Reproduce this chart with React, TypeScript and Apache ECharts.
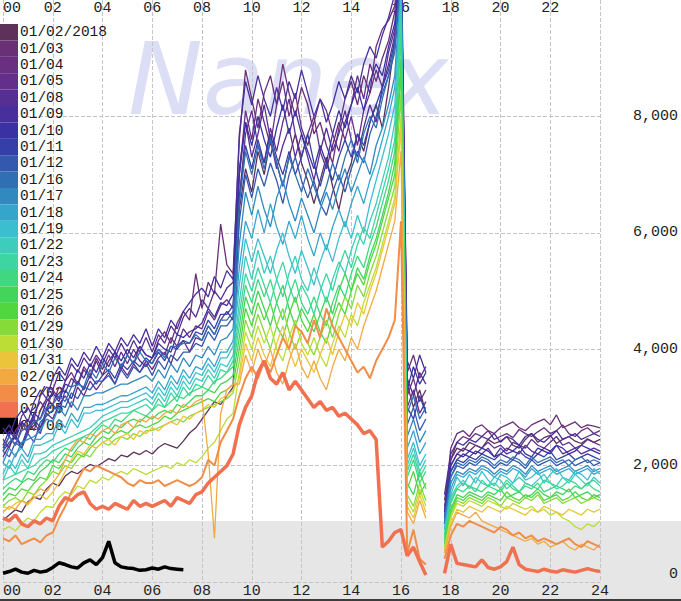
import React, { useEffect, useRef } from 'react';
import * as echarts from 'echarts';

// sample times: 0:00 .. 24:00 every 15 minutes (97 points)
const HOURS = Array.from({ length: 97 }, (_, i) => i / 4);

const DATES = ['01/02/2018', '01/03', '01/04', '01/05', '01/08', '01/09', '01/10', '01/11', '01/12', '01/16', '01/17', '01/18', '01/19', '01/22', '01/23', '01/24', '01/25', '01/26', '01/29', '01/30', '01/31', '02/01', '02/02', '02/05', '02/06'];

const COLORS = ['#5d3159', '#693076', '#6a2f80', '#632f8a', '#562f93', '#47309c', '#3a32a3', '#3440a8', '#3358ae', '#316fb4', '#3189c0', '#35a6cb', '#3bbfd0', '#3ccdbd', '#3dd5a0', '#40d780', '#43d45a', '#52d63f', '#86da3a', '#bcdc36', '#ecc43c', '#f2a93f', '#f28d47', '#f07050', '#000000'];

const WIDTHS = [1.3, 1.3, 1.3, 1.3, 1.3, 1.3, 1.3, 1.3, 1.3, 1.3, 1.3, 1.3, 1.3, 1.3, 1.3, 1.3, 1.3, 1.3, 1.3, 1.3, 1.3, 1.3, 2, 3.5, 3.5];

// day session: 0:00 .. 17:00 (69 values); evening session: 17:45 .. 24:00 (26 values)
const D0102 = [1060, 1150, 1240, 1200, 1380, 1460, 1420, 1600, 1700, 1650, 1820, 1900, 1860, 1950, 2020, 1980, 2050, 2120, 2080, 2180, 2150, 2230, 2190, 2260, 2200, 2310, 2380, 2340, 2300, 2420, 2560, 2650, 2800, 2950, 3100, 3050, 3200, 3350,
  6400, 7100, 6700, 7400, 7000, 7600, 7200, 6800, 7300, 7700, 7200, 6900, 6500, 6900, 7300, 6800, 6400, 6900, 7200, 7700, 7400, 7900, 8200, 7800, 8500, 9300,
  10800, 3400, 3000, 3300, 2900];
const E0102 = [1400, 2100, 2300, 2250, 2400, 2350, 2300, 2450, 2380, 2420, 2500, 2350, 2300, 2450, 2550, 2400, 2480, 2520, 2380, 2450, 2500, 2420, 2380, 2460, 2400, 2450];

const D0103 = [2300, 2500, 2350, 2650, 2800, 2600, 2950, 3150, 3050, 3350, 3250, 3500, 3380, 3650, 3500, 3800, 3550, 3800, 3950, 3650, 3900, 3750, 4050, 3900, 3850, 4150, 4300, 4100, 4450, 4650, 4500, 5300, 4700, 5150, 4950, 6150, 5450, 5300,
  7600, 8800, 8300, 7800, 8400, 8700, 8200, 8900, 8400, 8000, 8500, 8200, 7700, 7900, 7500, 7200, 7800, 8300, 8600, 8200, 8700, 8400, 9200, 9500, 9650, 9900,
  11000, 3600, 3900, 3500, 3700];
const E0103 = [1200, 2300, 2550, 2600, 2500, 2650, 2700, 2600, 2550, 2650, 2700, 2750, 2650, 2600, 2700, 2750, 2800, 2700, 2870, 2650, 2700, 2750, 2650, 2700, 2680, 2650];

const D0104 = [2450, 2300, 2600, 2750, 2550, 2900, 3100, 2950, 3300, 3150, 3450, 3600, 3400, 3700, 3550, 3850, 3650, 3900, 3700, 3950, 3750, 4000, 3800, 3700, 3850, 4000, 3900, 4200, 4050, 4350, 4200, 4400, 4350, 4650, 4500, 4750, 4850, 4700,
  7000, 8100, 7600, 8300, 7900, 7500, 8200, 8600, 8000, 8400, 7800, 7500, 7900, 8300, 8100, 7700, 7400, 7900, 8200, 8700, 8300, 8900, 8600, 9000, 9300, 9800,
  10900, 3200, 3500, 3100, 3300];
const E0104 = [1100, 2100, 2400, 2500, 2450, 2550, 2500, 2600, 2450, 2500, 2550, 2480, 2620, 2550, 2500, 2580, 2650, 2550, 2600, 2700, 2550, 2500, 2600, 2650, 2550, 2600];

const D0105 = [2150, 2350, 2500, 2300, 2600, 2750, 2550, 2900, 2800, 3050, 3200, 3000, 3350, 3200, 3450, 3300, 3450, 3600, 3400, 3700, 3550, 3750, 3600, 3800, 3650, 3850, 3950, 3750, 4050, 4150, 3950, 4200, 4150, 4400, 4250, 4500, 4650, 4500,
  6600, 7700, 8100, 7500, 7200, 7800, 7400, 7900, 8300, 7700, 7300, 7700, 8000, 7400, 7100, 7500, 7900, 7600, 8000, 7500, 8100, 8400, 8800, 8500, 9100, 9500,
  10700, 3000, 3300, 2900, 3100];
const E0105 = [1000, 2000, 2200, 2300, 2250, 2350, 2300, 2400, 2300, 2350, 2250, 2400, 2350, 2300, 2450, 2350, 2300, 2400, 2500, 2350, 2400, 2300, 2350, 2450, 2400, 2350];

const D0108 = [2550, 2700, 2500, 2850, 3000, 2800, 3200, 3350, 3300, 3600, 3450, 3750, 3600, 3850, 3700, 3900, 3750, 4000, 3850, 4100, 3900, 4150, 3950, 4200, 3950, 4250, 4100, 4400, 4250, 4550, 4700, 4550, 4850, 4700, 5000, 4850, 5050, 5150,
  7100, 7900, 7300, 7700, 8200, 7600, 7100, 7500, 7800, 7300, 7700, 7300, 6900, 7400, 7800, 7400, 7700, 8100, 7600, 7300, 7800, 8200, 7900, 8500, 8900, 9400,
  10600, 3500, 3200, 3600, 3400];
const E0108 = [1300, 1900, 2100, 2200, 2150, 2250, 2200, 2300, 2150, 2200, 2300, 2250, 2200, 2350, 2250, 2200, 2300, 2250, 2350, 2200, 2250, 2300, 2200, 2250, 2300, 2250];

const D0109 = [2650, 2500, 2800, 2950, 2750, 3100, 3300, 3150, 3500, 3700, 3550, 3850, 3700, 3950, 3800, 4050, 3850, 4100, 3950, 4200, 4050, 4250, 4100, 4350, 4050, 4350, 4200, 4500, 4350, 4650, 4800, 4950, 5050, 4900, 5250, 5050, 5350, 5200,
  7700, 8600, 8200, 8700, 8300, 8000, 8500, 8100, 8600, 8300, 8800, 8400, 8000, 8300, 7900, 8200, 8600, 8300, 8700, 8400, 8900, 9200, 9000, 9400, 9700, 10100,
  11200, 3800, 3500, 3900, 3600];
const E0109 = [1500, 2200, 2400, 2350, 2450, 2400, 2500, 2450, 2550, 2400, 2500, 2450, 2350, 2500, 2550, 2450, 2400, 2500, 2600, 2450, 2500, 2550, 2450, 2500, 2550, 2500];

const D0110 = [2350, 2600, 2450, 2750, 2650, 2900, 2800, 3100, 3250, 3100, 3400, 3350, 3650, 3500, 3750, 3600, 3850, 3700, 3950, 3800, 4000, 3850, 4050, 3900, 3850, 4100, 4000, 3950, 4250, 4200, 4300, 4350, 4450, 4700, 4550, 4800, 4750, 4950,
  7000, 7900, 7500, 8000, 7600, 7300, 7800, 8200, 7700, 8100, 7700, 7400, 7100, 7500, 7200, 7700, 8100, 7800, 8200, 8500, 8100, 8600, 8900, 8700, 9200, 9600,
  10800, 3300, 3700, 3400, 3600];
const E0110 = [1200, 2000, 2200, 2150, 2250, 2200, 2300, 2250, 2150, 2300, 2200, 2250, 2350, 2200, 2150, 2300, 2250, 2200, 2350, 2300, 2200, 2250, 2350, 2300, 2250, 2200];

const D0111 = [2250, 2400, 2500, 2350, 2650, 2800, 2650, 2950, 3050, 2900, 3300, 3150, 3450, 3300, 3550, 3400, 3550, 3650, 3500, 3750, 3650, 3800, 3700, 3850, 3750, 3950, 3800, 4050, 4000, 4150, 4100, 4300, 4250, 4500, 4350, 4600, 4600, 4750,
  6600, 7500, 7100, 7600, 7200, 7700, 7300, 7000, 7400, 7000, 7300, 7700, 7200, 6800, 7200, 6900, 7300, 7600, 7300, 7700, 7500, 7900, 8200, 8500, 8800, 9300,
  10500, 3000, 2800, 3200, 2900];
const E0111 = [1100, 1900, 2100, 2050, 2150, 2100, 2200, 2150, 2100, 2200, 2150, 2100, 2250, 2150, 2100, 2200, 2150, 2250, 2100, 2150, 2200, 2100, 2150, 2200, 2150, 2100];

const D0112 = [2250, 2150, 2400, 2300, 2550, 2400, 2750, 2850, 2950, 3050, 3000, 3250, 3150, 3350, 3300, 3450, 3450, 3550, 3400, 3650, 3500, 3700, 3600, 3750, 3550, 3800, 3650, 3900, 3800, 3950, 3950, 4100, 4050, 4300, 4150, 4400, 4400, 4550,
  6200, 7000, 6600, 7100, 6800, 7200, 6900, 6500, 7000, 7300, 6900, 6600, 6900, 6500, 6300, 6700, 7000, 6700, 7100, 7400, 7200, 7700, 8000, 8400, 8700, 9100,
  10400, 2700, 3000, 2600, 2800];
const E0112 = [1000, 1800, 2000, 1950, 2050, 2000, 2100, 2050, 1950, 2050, 2000, 2100, 2050, 1950, 2100, 2000, 2050, 2100, 2000, 2050, 2100, 2000, 2050, 2100, 2000, 2050];

const D0116 = [2250, 2500, 2350, 2600, 2650, 2750, 2800, 3000, 3050, 3200, 3100, 3350, 3400, 3350, 3650, 3500, 3750, 3600, 3850, 3700, 3900, 3750, 3950, 3800, 3750, 4000, 3850, 4050, 4050, 4100, 4100, 4250, 4150, 4400, 4250, 4500, 4500, 4650,
  6500, 7400, 7000, 7500, 7100, 7600, 7200, 6800, 7300, 7000, 6700, 7100, 6800, 6500, 6800, 7200, 6900, 7300, 7600, 7200, 7700, 8000, 7800, 8300, 8700, 9200,
  10500, 2900, 3200, 2800, 3000];
const E0116 = [1100, 1800, 2050, 2000, 2100, 2050, 2150, 2100, 2000, 2100, 2050, 2150, 2100, 2000, 2150, 2050, 2100, 2150, 2050, 2100, 2000, 2100, 2150, 2050, 2100, 2050];

const D0117 = [2050, 2300, 2150, 2400, 2450, 2500, 2600, 2800, 2750, 3000, 2850, 3100, 2950, 3200, 3200, 3250, 3250, 3300, 3350, 3400, 3400, 3450, 3500, 3550, 3450, 3650, 3500, 3750, 3600, 3850, 3700, 3900, 3850, 4050, 3900, 4150, 4200, 4350,
  5800, 6700, 6300, 6800, 6400, 6100, 6600, 6900, 6500, 6200, 6600, 6300, 6000, 6400, 6700, 6400, 6800, 7100, 6700, 7000, 7300, 7000, 7500, 7800, 8200, 8700,
  10300, 2500, 2800, 2400, 2600];
const E0117 = [1000, 1700, 1900, 1850, 1950, 1900, 2000, 1950, 1850, 1950, 1900, 2000, 1950, 1850, 2000, 1900, 1950, 2000, 1900, 1950, 2000, 1900, 1950, 2000, 1900, 1950];

const D0118 = [2050, 1950, 2200, 2300, 2150, 2450, 2450, 2550, 2550, 2800, 2650, 2900, 2750, 3000, 3000, 3050, 3050, 3100, 3150, 3200, 3200, 3250, 3300, 3350, 3250, 3450, 3300, 3550, 3400, 3650, 3500, 3700, 3650, 3850, 3700, 3950, 3950, 4150,
  5400, 6200, 5900, 6400, 6000, 6500, 6100, 5800, 6200, 5900, 6300, 5900, 5600, 6000, 5700, 6100, 6400, 6100, 6500, 6800, 6500, 6900, 7200, 7600, 8000, 8500,
  10200, 2300, 2600, 2200, 2400];
const E0118 = [900, 1600, 1850, 1800, 1900, 1850, 1950, 1900, 1800, 1900, 1850, 1950, 1900, 1800, 1950, 1850, 1900, 1950, 1850, 1900, 1950, 1850, 1900, 1950, 1850, 1900];

const D0119 = [1850, 2100, 1950, 2200, 2050, 2350, 2350, 2400, 2450, 2700, 2550, 2800, 2650, 2900, 2900, 2950, 2950, 3000, 3050, 3100, 3100, 3150, 3200, 3250, 3150, 3350, 3200, 3450, 3300, 3550, 3400, 3600, 3550, 3750, 3600, 3850, 3850, 4050,
  5100, 5900, 5500, 5900, 5600, 5300, 5700, 6000, 5600, 5300, 5700, 5400, 5100, 5500, 5800, 5500, 5900, 6200, 5900, 6300, 6000, 6500, 6900, 7300, 7700, 8200,
  10100, 2100, 2400, 2000, 2200];
const E0119 = [900, 1500, 1800, 1650, 1850, 1700, 1900, 1750, 1650, 1850, 1800, 1700, 1900, 1750, 1800, 1900, 1700, 1850, 1950, 1800, 1750, 1900, 1850, 1750, 1950, 1850];

const D0122 = [1750, 2000, 1850, 2100, 1950, 2200, 2200, 2250, 2350, 2400, 2450, 2500, 2550, 2600, 2650, 2750, 2850, 2900, 2950, 3000, 3000, 3050, 3100, 3150, 3050, 3250, 3100, 3350, 3200, 3450, 3300, 3500, 3450, 3650, 3500, 3750, 3700, 3900,
  4800, 5600, 5200, 5700, 5300, 5600, 5200, 4900, 5300, 5600, 5200, 5000, 5400, 5100, 4800, 5200, 5500, 5300, 5700, 6000, 5800, 6200, 6500, 6900, 7300, 7900,
  9900, 2000, 2300, 1900, 2100];
const E0122 = [800, 1450, 1650, 1750, 1600, 1800, 1700, 1650, 1800, 1750, 1600, 1700, 1800, 1700, 1650, 1750, 1850, 1700, 1650, 1800, 1700, 1850, 1750, 1650, 1800, 1700];

const D0123 = [1750, 1800, 1850, 1900, 1950, 2000, 2100, 2150, 2250, 2300, 2350, 2400, 2450, 2500, 2550, 2650, 2750, 2800, 2850, 2900, 2900, 2950, 3000, 3050, 2950, 3150, 3000, 3250, 3100, 3350, 3200, 3400, 3350, 3550, 3400, 3650, 3600, 3800,
  4600, 5300, 5000, 5400, 5100, 4800, 5200, 5500, 5100, 4800, 5100, 4900, 4600, 5000, 5300, 5000, 5400, 5700, 5400, 5800, 6100, 5900, 6300, 6700, 7100, 7600,
  9700, 1900, 2200, 1800, 2000];
const E0123 = [800, 1400, 1600, 1700, 1650, 1550, 1750, 1650, 1700, 1600, 1750, 1650, 1550, 1700, 1650, 1600, 1750, 1700, 1600, 1650, 1750, 1700, 1600, 1700, 1750, 1650];

const D0124 = [1600, 1700, 1780, 1720, 1900, 1850, 2000, 2100, 2050, 2200, 2300, 2250, 2400, 2500, 2450, 2600, 2700, 2650, 2800, 2750, 2850, 2950, 2900, 2850, 2950, 3050, 3000, 3100, 3200, 3150, 3250, 3300, 3350, 3300, 3450, 3500, 3600, 3700,
  4400, 5100, 4800, 5200, 4900, 5200, 4800, 4500, 4900, 5200, 4800, 4600, 4900, 4600, 4400, 4800, 5100, 4900, 5300, 5600, 5400, 5800, 6100, 6500, 6900, 7400,
  9400, 1800, 2100, 1700, 1900];
const E0124 = [750, 1350, 1600, 1550, 1650, 1600, 1550, 1650, 1600, 1550, 1700, 1600, 1550, 1650, 1600, 1700, 1550, 1600, 1650, 1600, 1550, 1650, 1600, 1700, 1600, 1550];

const D0125 = [1500, 1620, 1580, 1700, 1780, 1740, 1900, 1980, 2100, 2050, 2200, 2150, 2300, 2400, 2350, 2500, 2600, 2550, 2700, 2650, 2750, 2800, 2750, 2850, 2800, 2900, 2950, 2900, 3050, 3000, 3100, 3200, 3200, 3300, 3250, 3400, 3450, 3550,
  4200, 4900, 4600, 5000, 4700, 4400, 4800, 5100, 4700, 4400, 4700, 4500, 4300, 4600, 4900, 4600, 5000, 5300, 5000, 5400, 5200, 5600, 5900, 6300, 6700, 7200,
  9000, 1700, 1500, 1900, 1600];
const E0125 = [700, 1250, 1500, 1450, 1550, 1500, 1450, 1550, 1500, 1600, 1450, 1500, 1550, 1450, 1500, 1600, 1500, 1450, 1550, 1500, 1600, 1450, 1500, 1550, 1450, 1500];

const D0126 = [1400, 1520, 1480, 1600, 1560, 1700, 1800, 1760, 2000, 1950, 2100, 2050, 2200, 2150, 2300, 2400, 2500, 2450, 2550, 2600, 2550, 2650, 2700, 2650, 2700, 2750, 2850, 2800, 2900, 2950, 3000, 3050, 3100, 3150, 3100, 3250, 3300, 3400,
  4000, 4700, 4400, 4800, 4500, 4800, 4400, 4200, 4600, 4900, 4500, 4300, 4600, 4300, 4100, 4500, 4800, 4600, 5000, 5300, 5100, 5500, 5800, 6200, 6600, 7000,
  8800, 1600, 1900, 1500, 1700];
const E0126 = [650, 1200, 1450, 1400, 1500, 1450, 1400, 1500, 1450, 1400, 1550, 1450, 1400, 1500, 1450, 1550, 1400, 1450, 1500, 1400, 1450, 1550, 1450, 1400, 1500, 1450];

const D0129 = [1300, 1400, 1450, 1380, 1550, 1500, 1650, 1750, 1900, 1850, 2000, 1950, 2100, 2200, 2150, 2300, 2400, 2350, 2450, 2500, 2450, 2550, 2500, 2600, 2600, 2650, 2700, 2750, 2800, 2750, 2850, 2900, 2950, 3000, 3050, 3100, 3150, 3250,
  3800, 4500, 4200, 4600, 4300, 4000, 4400, 4700, 4300, 4000, 4300, 4100, 3900, 4200, 4500, 4200, 4600, 4900, 4700, 5100, 4900, 5300, 5600, 6000, 6400, 6800,
  8400, 1500, 1300, 1700, 1400];
const E0129 = [600, 1150, 1400, 1350, 1450, 1400, 1350, 1450, 1400, 1300, 1450, 1400, 1350, 1450, 1400, 1500, 1350, 1400, 1450, 1350, 1400, 1450, 1350, 1400, 1450, 1400];

const D0130 = [900, 950, 880, 1000, 1100, 1050, 1200, 1300, 1280, 1450, 1550, 1500, 1650, 1600, 1750, 1700, 1800, 1750, 1850, 1900, 1850, 1950, 1900, 1850, 1900, 1950, 2000, 1950, 2050, 2000, 2100, 2050, 2150, 2300, 2400, 2600, 2800, 2900,
  3600, 4300, 4000, 4400, 4100, 4400, 4000, 3800, 4200, 4500, 4100, 3900, 4200, 3900, 3700, 4100, 4400, 4200, 4600, 4400, 4800, 5100, 5400, 5800, 6200, 6600,
  8000, 1400, 1200, 1600, 1300];
const E0130 = [550, 1100, 1350, 1300, 1400, 1350, 1300, 1400, 1350, 1300, 1250, 1350, 1300, 1250, 1300, 1200, 1250, 1150, 1200, 1100, 1050, 950, 900, 1000, 950, 1050];

const D0131 = [1300, 1250, 1350, 1400, 1320, 1450, 1500, 1420, 1550, 1700, 1900, 2100, 2250, 2200, 2350, 2300, 2400, 2450, 2350, 2500, 2550, 2450, 2600, 2550, 2650, 2600, 2700, 2750, 2700, 2850, 2800, 2900, 2950, 3050, 3000, 3150, 3200, 3300,
  3500, 4100, 3800, 4200, 3900, 3700, 4100, 4400, 4000, 3700, 4000, 3800, 3600, 3900, 4200, 3900, 4300, 4600, 4400, 4800, 4600, 5000, 5300, 5700, 6100, 6500,
  7800, 1300, 1100, 1500, 1200];
const E0131 = [500, 1000, 1250, 1200, 1300, 1250, 1200, 1300, 1250, 1200, 1300, 1250, 1200, 1150, 1250, 1200, 1300, 1250, 1200, 1150, 1250, 1200, 1150, 1250, 1200, 1250];

const D0201 = [1200, 1300, 1250, 1400, 1350, 1500, 1600, 1550, 1700, 1850, 2100, 2300, 2450, 2400, 2550, 2500, 2600, 2650, 2550, 2700, 2750, 2650, 2800, 2750, 2850, 2800, 2900, 2950, 2900, 3050, 3000, 3100, 3150, 2200, 750, 2900, 3300, 3400,
  3400, 3900, 3600, 4000, 3700, 4000, 3600, 3400, 3800, 4100, 3700, 3500, 3800, 3500, 3300, 3700, 4000, 3800, 4200, 4000, 4400, 4700, 5000, 5400, 5800, 6200,
  7400, 1200, 1000, 1400, 1100];
const E0201 = [500, 950, 1200, 1150, 1100, 1200, 1050, 1000, 950, 900, 850, 800, 750, 700, 750, 650, 700, 600, 650, 700, 600, 550, 650, 600, 550, 650];

const D0202 = [750, 700, 800, 650, 700, 750, 680, 800, 850, 1100, 1300, 1550, 1750, 1950, 1900, 2000, 1950, 1900, 1850, 1800, 1700, 1650, 1750, 1700, 1700, 1750, 1650, 1700, 1750, 1700, 1650, 1700, 1800, 2100, 2000, 2400, 2600, 2800,
  3200, 3500, 3700, 3500, 3800, 3600, 3900, 4200, 4000, 4400, 4300, 4100, 4500, 4200, 4700, 4400, 4200, 4000, 3800, 3600, 3700, 3500, 3800, 4000, 4200, 4500,
  6200, 500, 900, 400, 300];
const E0202 = [400, 800, 1000, 950, 1050, 1000, 950, 900, 850, 950, 900, 800, 850, 750, 800, 700, 750, 700, 650, 700, 750, 650, 600, 700, 650, 600];

const D0205 = [1100, 1050, 1150, 1000, 950, 1050, 1000, 1100, 1050, 1300, 1450, 1400, 1500, 1550, 1350, 1250, 1300, 1250, 1350, 1300, 1250, 1400, 1300, 1350, 1300, 1350, 1400, 1300, 1450, 1400, 1350, 1500, 1550, 1700, 1800, 1900, 2000, 2200,
  2700, 3000, 3200, 3600, 3800, 3500, 3400, 3600, 3300, 3450, 3300, 3150, 3000, 3100, 2950, 3000, 2850, 2900, 2800, 2700, 2550, 2600, 2450, 600, 700, 850,
  900, 450, 600, 350, 120];
const E0205 = [150, 650, 320, 300, 280, 260, 380, 250, 220, 260, 350, 600, 300, 220, 200, 180, 220, 190, 170, 210, 190, 170, 200, 230, 200, 180];

// 02/06: data only until 07:15
const D0206 = [150, 180, 220, 170, 150, 200, 170, 190, 250, 330, 300, 260, 240, 330, 380, 300, 420, 700, 330, 260, 240, 230, 200, 210, 240, 220, 260, 230, 220, 210];

const DAY = [D0102, D0103, D0104, D0105, D0108, D0109, D0110, D0111, D0112, D0116, D0117, D0118, D0119, D0122, D0123, D0124, D0125, D0126, D0129, D0130, D0131, D0201, D0202, D0205];
const EVE = [E0102, E0103, E0104, E0105, E0108, E0109, E0110, E0111, E0112, E0116, E0117, E0118, E0119, E0122, E0123, E0124, E0125, E0126, E0129, E0130, E0131, E0201, E0202, E0205];

function fullDay(i: number): (number | null)[] {
  if (i < DAY.length) {
    const d: (number | null)[] = DAY[i].slice(0, 69);
    while (d.length < 69) d.push(null);
    const e: (number | null)[] = EVE[i].slice(0, 26);
    while (e.length < 26) e.push(null);
    return [...d, null, null, ...e];
  }
  const out: (number | null)[] = [...D0206];
  while (out.length < HOURS.length) out.push(null);
  return out;
}

const pad2 = (v: number) => (v < 10 ? '0' + v : '' + v);
const MONO = '"Liberation Mono", "DejaVu Sans Mono", monospace';

export default function App() {
  const ref = useRef<HTMLDivElement>(null);
  useEffect(() => {
    document.body.style.margin = '0';
    const chart = echarts.init(ref.current!, null, { renderer: 'svg' });
    const series = DATES.map((name, i) => {
      const vals = fullDay(i);
      return {
        name,
        type: 'line',
        showSymbol: false,
        symbol: 'none',
        connectNulls: false,
        clip: true,
        data: HOURS.map((h, k) => [h, vals[k]]),
        lineStyle: { color: COLORS[i], width: WIDTHS[i] },
        itemStyle: { color: COLORS[i] },
        emphasis: { disabled: true },
      };
    });
    chart.setOption({
      animation: false,
      backgroundColor: '#ffffff',
      grid: { left: 0, right: 81, top: 0, bottom: 19, containLabel: false },
      graphic: [
        { type: 'rect', z: -10, silent: true, shape: { x: 0, y: 521, width: 681, height: 80 }, style: { fill: '#e6e6e6' } },
        { type: 'rect', z: -10, silent: true, shape: { x: 0, y: 599, width: 681, height: 2 }, style: { fill: '#3c3c3c' } },
        {
          type: 'text', z: -10, silent: true, x: 128, y: 79,
          style: { text: 'Nanex', font: 'italic 100px "DejaVu Sans", Verdana, sans-serif', fill: '#dcdef6', verticalAlign: 'middle', align: 'left' },
        },
      ],
      legend: {
        orient: 'vertical', left: 0, top: 24, padding: 0, z: 1,
        itemWidth: 18, itemHeight: 16.4, itemGap: 0, icon: 'rect',
        selectedMode: false,
        textStyle: { fontFamily: MONO, fontSize: 14.5, color: '#1a1a1a', padding: [0, 0, 0, -3] },
        data: DATES,
      },
      xAxis: [
        {
          type: 'value', min: 0, max: 24, interval: 2, position: 'bottom',
          axisLine: { show: false }, axisTick: { show: false },
          axisLabel: { formatter: (v: number) => pad2(v), fontFamily: MONO, fontSize: 15, color: '#222', margin: 2, alignMinLabel: 'left' },
          splitLine: { show: true, lineStyle: { type: 'dashed', color: '#c4c4c4', width: 1 } },
        },
        {
          type: 'value', min: 0, max: 24, interval: 2, position: 'top',
          axisLine: { show: false }, axisTick: { show: false },
          axisLabel: { inside: true, showMaxLabel: false, formatter: (v: number) => pad2(v), fontFamily: MONO, fontSize: 15, color: '#222', margin: 1, alignMinLabel: 'left' },
          splitLine: { show: false },
        },
      ],
      yAxis: {
        type: 'value', min: 0, max: 10000, interval: 2000, position: 'right',
        axisLine: { show: false }, axisTick: { show: false },
        axisLabel: {
          showMaxLabel: false, fontFamily: MONO, fontSize: 15, color: '#222', align: 'right', margin: 78,
          verticalAlignMinLabel: 'bottom',
          formatter: (v: number) => v.toLocaleString('en-US'),
        },
        splitLine: { show: true, showMaxLine: false, lineStyle: { type: 'dashed', color: '#c4c4c4', width: 1 } },
      },
      series,
    } as any);
    return () => chart.dispose();
  }, []);
  return <div ref={ref} style={{ width: 681, height: 601, position: 'absolute', left: 0, top: 0 }} />;
}
